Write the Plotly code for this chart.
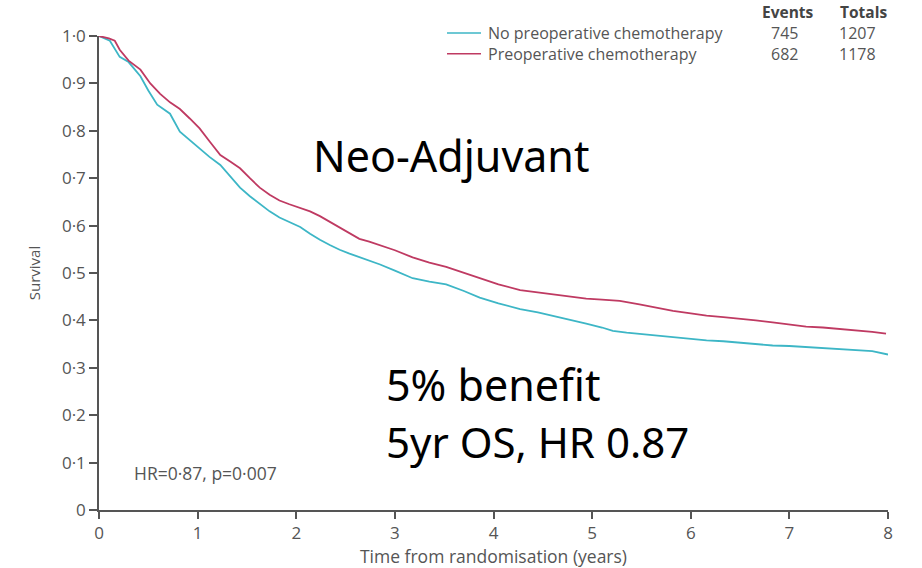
import plotly.graph_objects as go

# ---- data ----
t_no = [0, 0.05, 0.11, 0.21, 0.3, 0.42, 0.5, 0.59, 0.72, 0.82, 0.92, 1.02, 1.12, 1.23, 1.33, 1.43,
        1.53, 1.63, 1.73, 1.83, 1.93, 2.04, 2.14, 2.24, 2.34, 2.44, 2.54, 2.64, 2.74, 2.85, 3.0,
        3.18, 3.35, 3.52, 3.7, 3.86, 4.05, 4.27, 4.45, 4.6, 4.78, 4.94, 5.1, 5.21, 5.35, 5.55,
        5.82, 6.0, 6.16, 6.33, 6.49, 6.66, 6.83, 7.0, 7.17, 7.34, 7.51, 7.67, 7.84, 8.0]
s_no = [1.0, 0.995, 0.99, 0.956, 0.945, 0.915, 0.885, 0.855, 0.836, 0.798, 0.78, 0.763, 0.745,
        0.728, 0.705, 0.68, 0.662, 0.645, 0.63, 0.617, 0.607, 0.597, 0.583, 0.57, 0.559, 0.549,
        0.541, 0.534, 0.527, 0.518, 0.505, 0.489, 0.482, 0.476, 0.462, 0.448, 0.436, 0.424, 0.417,
        0.41, 0.40, 0.393, 0.385, 0.378, 0.374, 0.37, 0.365, 0.361, 0.358, 0.356, 0.353, 0.35,
        0.347, 0.346, 0.344, 0.342, 0.34, 0.338, 0.335, 0.328]

t_pre = [0, 0.1, 0.16, 0.21, 0.3, 0.42, 0.52, 0.62, 0.72, 0.82, 0.92, 1.02, 1.12, 1.23, 1.33, 1.43,
         1.53, 1.63, 1.73, 1.83, 1.93, 2.04, 2.14, 2.24, 2.34, 2.44, 2.54, 2.64, 2.74, 2.85, 3.0,
         3.18, 3.35, 3.52, 3.7, 3.86, 4.05, 4.27, 4.45, 4.6, 4.78, 4.94, 5.1, 5.28, 5.48, 5.65,
         5.82, 6.0, 6.16, 6.33, 6.49, 6.66, 6.83, 7.0, 7.17, 7.34, 7.51, 7.67, 7.84, 7.98]
s_pre = [1.0, 0.995, 0.99, 0.971, 0.948, 0.929, 0.90, 0.878, 0.86, 0.846, 0.826, 0.805, 0.778,
         0.749, 0.735, 0.721, 0.70, 0.68, 0.665, 0.653, 0.645, 0.638, 0.63, 0.62, 0.608, 0.597,
         0.585, 0.572, 0.566, 0.559, 0.548, 0.533, 0.522, 0.513, 0.50, 0.489, 0.476, 0.464, 0.459,
         0.455, 0.45, 0.446, 0.444, 0.441, 0.434, 0.427, 0.42, 0.415, 0.41, 0.407, 0.404, 0.40,
         0.396, 0.391, 0.387, 0.385, 0.382, 0.379, 0.376, 0.372]

series_names = ["No preoperative chemotherapy", "Preoperative chemotherapy"]
events = ["745", "682"]
totals = ["1207", "1178"]

x_ticks = [0, 1, 2, 3, 4, 5, 6, 7, 8]
y_ticks = [0, 0.1, 0.2, 0.3, 0.4, 0.5, 0.6, 0.7, 0.8, 0.9, 1.0]
y_ticktext = ["0", "0·1", "0·2", "0·3", "0·4", "0·5", "0·6", "0·7", "0·8", "0·9", "1·0"]

C_NO = "#3db6c6"
C_PRE = "#bf3a62"
AX = "#555555"
FONT = "Open Sans"

fig = go.Figure()
fig.add_trace(go.Scatter(x=t_no, y=s_no, mode="lines", line=dict(color=C_NO, width=1.8),
                         name=series_names[0], showlegend=False))
fig.add_trace(go.Scatter(x=t_pre, y=s_pre, mode="lines", line=dict(color=C_PRE, width=1.8),
                         name=series_names[1], showlegend=False))

fig.update_layout(
    width=922, height=568,
    margin=dict(l=99, r=34, t=36, b=51),
    plot_bgcolor="white", paper_bgcolor="white",
    font=dict(family=FONT, color=AX, size=14),
    xaxis=dict(range=[0, 8], tickvals=x_ticks, showline=True, linecolor=AX, linewidth=1.5,
               ticks="outside", ticklen=7, tickcolor=AX, tickwidth=1.5, showgrid=False,
               zeroline=False, tickfont=dict(size=17, color=AX),
               title=dict(text="Time from randomisation (years)", font=dict(size=17.5, color=AX), standoff=0)),
    yaxis=dict(range=[0, 1.0], tickvals=y_ticks, ticktext=y_ticktext, showline=True, linecolor=AX,
               linewidth=1.5, ticks="outside", ticklen=8, tickcolor=AX, tickwidth=1.5,
               showgrid=False, zeroline=False, tickfont=dict(size=17, color=AX),
               title=dict(text="Survival", font=dict(size=15, color=AX), standoff=18)),
)

# legend / table in the top right
ann = []
ann.append(dict(x=788, y=12, text="<b>Events</b>", font=dict(size=15.5, color="#444")))
ann.append(dict(x=863, y=12, text="<b>Totals</b>", font=dict(size=15.5, color="#444")))
colors = [C_NO, C_PRE]
for i in range(2):
    yy = 33 + 21 * i
    fig.add_shape(type="line", xref="paper", yref="paper",
                  x0=(447 - 99) / 789, x1=(481 - 99) / 789,
                  y0=1 - (yy - 36) / 481, y1=1 - (yy - 36) / 481,
                  line=dict(color=colors[i], width=1.6))
    ann.append(dict(x=486, y=yy, text=series_names[i], xanchor="left", font=dict(size=16, color=AX)))
    ann.append(dict(x=769, y=yy, text=events[i], xanchor="left", font=dict(size=16, color=AX)))
    ann.append(dict(x=837, y=yy, text=totals[i], xanchor="left", font=dict(size=16, color=AX)))

ann.append(dict(x=132, y=479, text="HR=0·87, p=0·007", xanchor="left", font=dict(size=17.5, color=AX)))
ann.append(dict(x=451, y=157, text="Neo-Adjuvant", font=dict(family="Noto Sans", size=43, color="black")))
ann.append(dict(x=384, y=390, text="5% benefit", xanchor="left", font=dict(family="Noto Sans", size=43, color="black")))
ann.append(dict(x=384, y=447, text="5yr OS, HR 0.87", xanchor="left", font=dict(family="Noto Sans", size=42, color="black")))

for a in ann:
    a.setdefault("xanchor", "center")
    fig.add_annotation(xref="paper", yref="paper",
                       x=(a["x"] - 99) / 789, y=1 - (a["y"] - 36) / 481,
                       text=a["text"], xanchor=a["xanchor"], yanchor="middle",
                       showarrow=False, font=a["font"])

fig.write_html("out.html")
